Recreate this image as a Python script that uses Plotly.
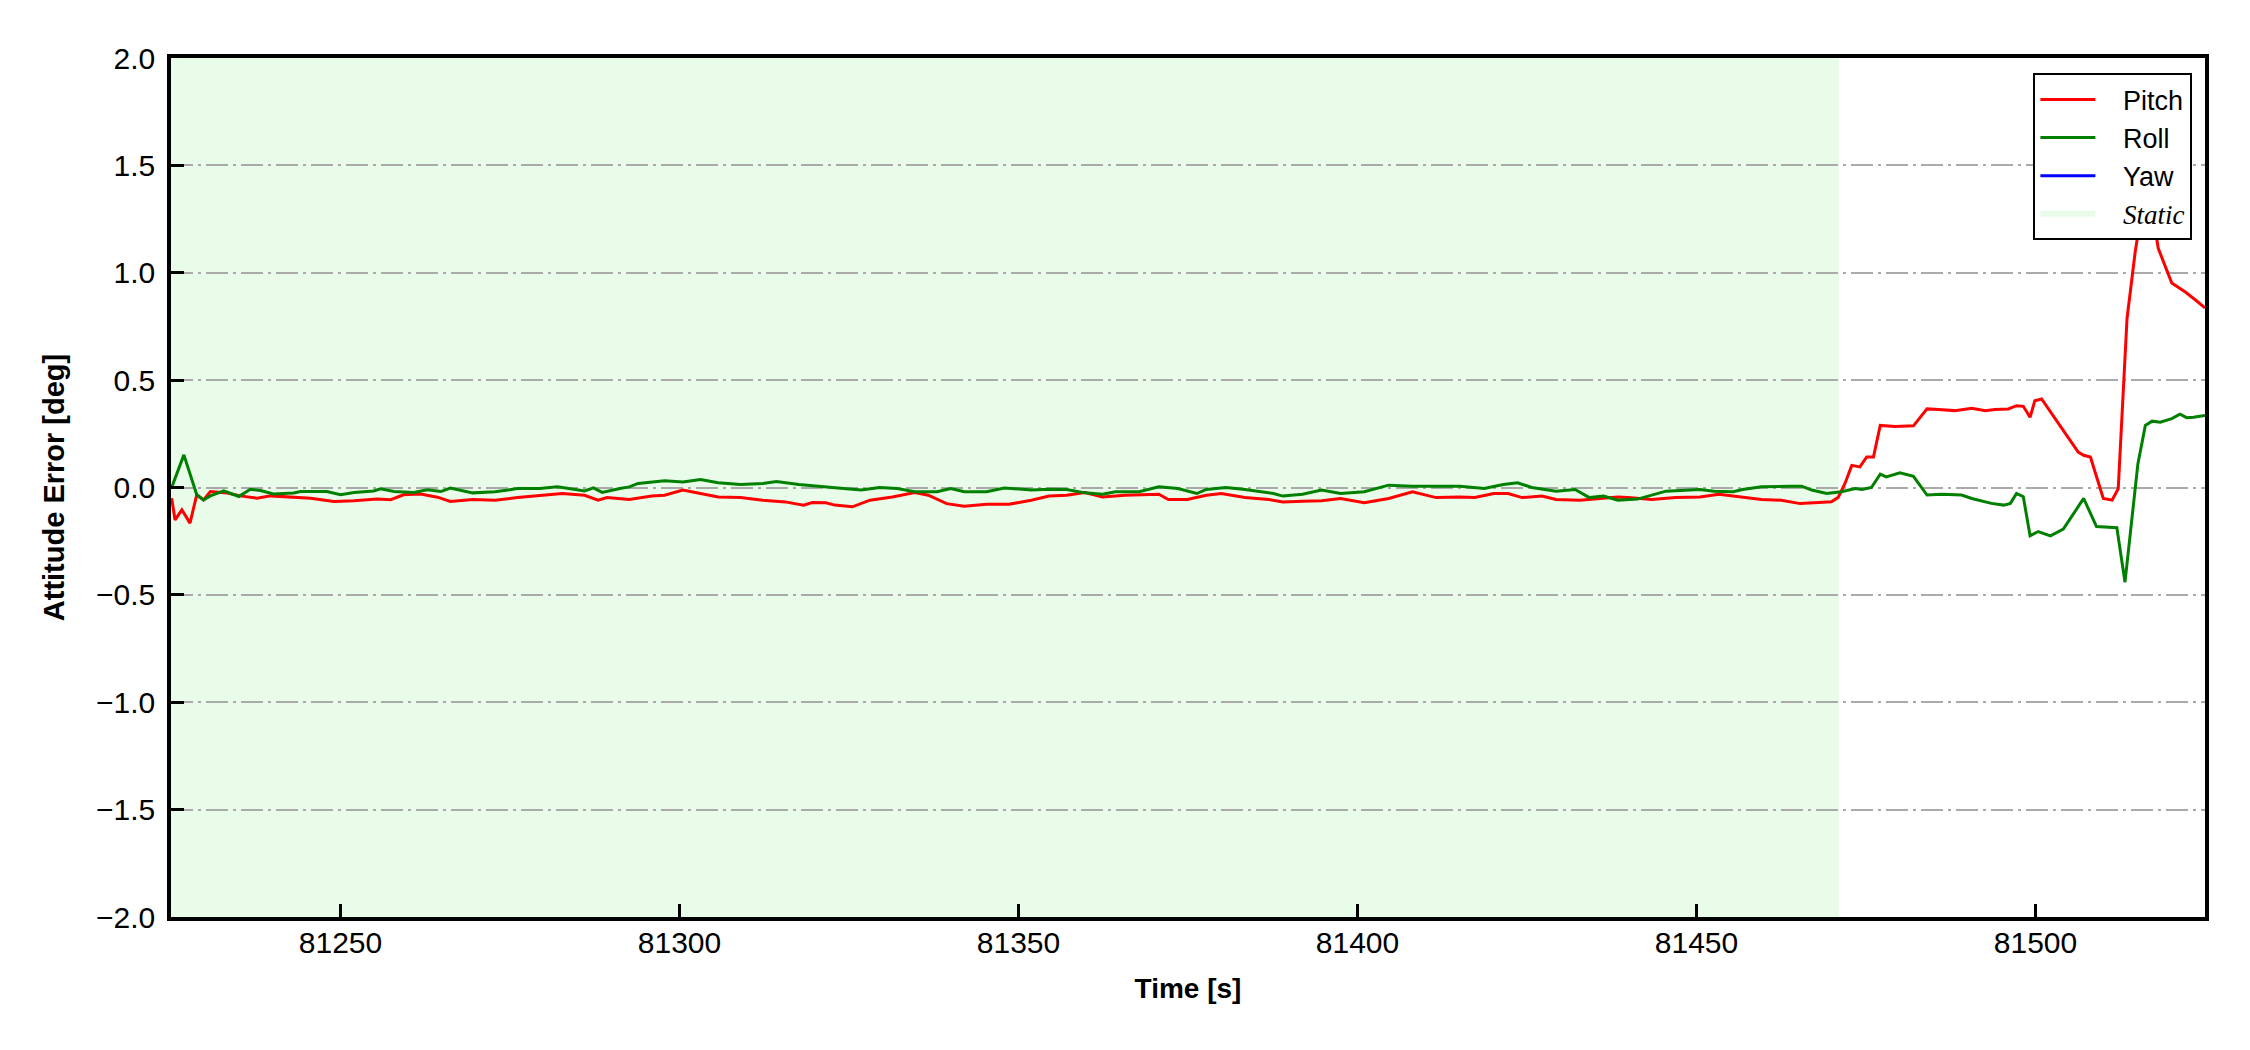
import plotly.graph_objects as go

# ---- data ----
pitch_t = [81225.1, 81225.6, 81226.6, 81227.8, 81228.8, 81229.8, 81230.8, 81233.3, 81235.2, 81237.7,
           81239.7, 81243.1, 81245.6, 81249.0, 81252.0, 81255.4, 81257.4, 81259.3, 81261.8, 81264.3,
           81266.2, 81269.5, 81272.8, 81276.1, 81279.4, 81282.7, 81286.0, 81288.0, 81289.3, 81292.6,
           81295.9, 81297.8, 81300.5, 81303.1, 81305.7, 81309.0, 81312.3, 81315.6, 81318.3, 81319.6,
           81321.6, 81322.9, 81325.5, 81328.1, 81331.4, 81334.7, 81336.7, 81339.4, 81342.0, 81345.3,
           81348.6, 81351.9, 81354.5, 81357.1, 81359.8, 81362.4, 81365.7, 81370.7, 81372.1, 81374.9,
           81377.7, 81379.9, 81383.4, 81386.9, 81389.0, 81391.9, 81394.7, 81397.5, 81401.0, 81404.6,
           81408.1, 81411.6, 81415.1, 81417.3, 81420.1, 81422.2, 81424.3, 81427.2, 81429.3, 81432.8,
           81436.3, 81438.4, 81439.9, 81443.4, 81446.9, 81450.5, 81453.3, 81456.8, 81459.6, 81462.5,
           81465.3, 81468.0, 81469.9, 81470.9, 81471.9, 81472.9, 81474.1, 81475.1, 81476.1, 81477.1,
           81479.3, 81482.0, 81484.0, 81485.7, 81488.1, 81490.6, 81492.6, 81494.0, 81496.0, 81497.2,
           81498.2, 81499.2, 81499.9, 81500.9, 81502.9, 81504.9, 81506.3, 81507.1, 81508.1, 81510.0,
           81511.3, 81512.2, 81512.7, 81513.5, 81514.7, 81515.7, 81516.7, 81517.4, 81518.1, 81520.1,
           81522.1, 81523.6, 81525.0]
pitch = [-0.050, -0.151, -0.104, -0.166, -0.034, -0.058, -0.019, -0.026, -0.039, -0.050,
         -0.039, -0.045, -0.050, -0.065, -0.062, -0.054, -0.057, -0.034, -0.030, -0.045,
         -0.065, -0.056, -0.059, -0.047, -0.036, -0.028, -0.036, -0.059, -0.047, -0.056,
         -0.040, -0.036, -0.012, -0.028, -0.044, -0.047, -0.059, -0.067, -0.082, -0.070,
         -0.071, -0.082, -0.090, -0.059, -0.044, -0.023, -0.036, -0.075, -0.087, -0.078,
         -0.078, -0.059, -0.040, -0.036, -0.023, -0.044, -0.036, -0.031, -0.056, -0.056,
         -0.036, -0.028, -0.047, -0.056, -0.067, -0.064, -0.062, -0.051, -0.071, -0.051,
         -0.020, -0.047, -0.044, -0.047, -0.028, -0.028, -0.047, -0.040, -0.056, -0.059,
         -0.051, -0.044, -0.047, -0.056, -0.047, -0.044, -0.031, -0.044, -0.056, -0.059,
         -0.075, -0.070, -0.066, -0.046, 0.019, 0.103, 0.096, 0.142, 0.142, 0.289,
         0.284, 0.287, 0.366, 0.363, 0.358, 0.369, 0.358, 0.363, 0.366, 0.381,
         0.378, 0.327, 0.404, 0.412, 0.319, 0.227, 0.165, 0.150, 0.142, -0.051,
         -0.059, -0.006, 0.327, 0.787, 1.096, 1.300, 1.400, 1.250, 1.114, 0.952,
         0.910, 0.873, 0.836]

roll_t = [81225.1, 81226.9, 81228.8, 81229.8, 81230.8, 81232.8, 81235.0, 81236.7, 81238.2, 81240.1,
          81243.1, 81244.1, 81248.0, 81250.0, 81252.0, 81254.9, 81255.9, 81257.9, 81260.8, 81262.8,
          81264.8, 81266.2, 81269.5, 81272.8, 81276.1, 81279.4, 81282.0, 81284.7, 81286.0, 81287.3,
          81288.6, 81291.2, 81292.6, 81293.9, 81296.5, 81297.8, 81300.5, 81303.1, 81305.7, 81309.0,
          81312.3, 81314.3, 81317.6, 81320.9, 81324.2, 81326.8, 81329.5, 81332.1, 81334.7, 81338.0,
          81340.0, 81342.0, 81345.3, 81347.9, 81351.9, 81354.5, 81357.1, 81359.8, 81362.4, 81364.3,
          81367.8, 81370.7, 81373.5, 81376.3, 81377.7, 81380.6, 81383.4, 81387.6, 81389.0, 81391.9,
          81394.7, 81397.5, 81401.0, 81404.6, 81408.1, 81411.6, 81415.1, 81418.7, 81421.5, 81423.6,
          81425.7, 81429.3, 81432.1, 81434.2, 81436.3, 81438.4, 81441.3, 81445.5, 81450.5, 81452.6,
          81455.4, 81456.8, 81459.6, 81463.9, 81465.5, 81467.0, 81469.2, 81470.4, 81471.4, 81473.4,
          81474.4, 81475.8, 81477.1, 81478.0, 81480.0, 81482.0, 81484.0, 81486.2, 81489.1, 81490.6,
          81493.5, 81495.3, 81496.3, 81497.2, 81498.2, 81499.2, 81500.4, 81502.2, 81504.1, 81507.1,
          81509.0, 81512.0, 81513.2, 81515.1, 81516.2, 81517.2, 81518.4, 81520.1, 81521.3, 81522.3,
          81523.3, 81525.0]
roll = [0.000, 0.152, -0.034, -0.058, -0.039, -0.016, -0.042, -0.008, -0.014, -0.030,
        -0.026, -0.019, -0.019, -0.034, -0.023, -0.016, -0.006, -0.019, -0.023, -0.011,
        -0.019, -0.003, -0.025, -0.020, -0.005, -0.005, 0.003, -0.009, -0.016, -0.002,
        -0.023, -0.005, 0.003, 0.019, 0.026, 0.031, 0.026, 0.037, 0.022, 0.014,
        0.019, 0.028, 0.014, 0.003, -0.005, -0.012, 0.000, -0.005, -0.020, -0.020,
        -0.005, -0.020, -0.020, -0.002, -0.012, -0.008, -0.009, -0.025, -0.031, -0.020,
        -0.020, 0.003, -0.005, -0.028, -0.009, 0.000, -0.009, -0.028, -0.040, -0.031,
        -0.012, -0.028, -0.020, 0.011, 0.006, 0.006, 0.006, -0.005, 0.014, 0.022,
        0.000, -0.017, -0.009, -0.047, -0.040, -0.059, -0.054, -0.017, -0.009, -0.017,
        -0.020, -0.009, 0.003, 0.006, 0.006, -0.012, -0.028, -0.023, -0.020, -0.005,
        -0.009, 0.000, 0.062, 0.049, 0.068, 0.052, -0.035, -0.032, -0.035, -0.051,
        -0.074, -0.082, -0.074, -0.028, -0.043, -0.225, -0.205, -0.225, -0.194, -0.051,
        -0.182, -0.187, -0.441, 0.110, 0.289, 0.309, 0.304, 0.321, 0.341, 0.325,
        0.327, 0.335]

# Yaw appears only in the legend (its curve is not visible in the plotted range)
yaw_t = [None]
yaw = [None]

static_start = 81225
static_end = 81471

x_range = [81225, 81525]
y_range = [-2.0, 2.0]
x_ticks = [81250, 81300, 81350, 81400, 81450, 81500]
y_ticks = [-2.0, -1.5, -1.0, -0.5, 0.0, 0.5, 1.0, 1.5, 2.0]

FONT = "Liberation Sans, Arial, sans-serif"
STATIC_COLOR = "#e9fce9"
PAD = "\u00a0\u00a0\u00a0"  # gap between legend symbol and text

fig = go.Figure()
fig.add_trace(go.Scatter(x=pitch_t, y=pitch, mode="lines", name=PAD + "Pitch",
                         line=dict(color="#ff0000", width=3), legendrank=1))
fig.add_trace(go.Scatter(x=roll_t, y=roll, mode="lines", name=PAD + "Roll",
                         line=dict(color="#008000", width=3), legendrank=2))
fig.add_trace(go.Scatter(x=yaw_t, y=yaw, mode="lines", name=PAD + "Yaw",
                         line=dict(color="#0000ff", width=3), legendrank=3))
# legend entry for the static band
fig.add_trace(go.Scatter(x=[None], y=[None], mode="none", fill="toself",
                         fillcolor=STATIC_COLOR, legendrank=4,
                         name=PAD + '<span style="font-family:Liberation Serif, Times New Roman, serif"><i>Static</i></span>'))

fig.add_shape(type="rect", xref="x", yref="y",
              x0=static_start, x1=static_end, y0=y_range[0], y1=y_range[1],
              fillcolor=STATIC_COLOR, line=dict(width=0), layer="below")

# page body has an 8px default margin, so the figure is drawn 8px smaller
fig.update_layout(
    width=2242, height=1042,
    margin=dict(l=163, r=45, t=50, b=133),
    paper_bgcolor="white", plot_bgcolor="white",
    font=dict(family=FONT, size=30, color="black"),
    showlegend=True,
    legend=dict(x=0.9938, y=0.982, xanchor="right", yanchor="top",
                bgcolor="white", bordercolor="black", borderwidth=2,
                font=dict(family=FONT, size=27, color="black"),
                tracegroupgap=0, itemwidth=55),
)

fig.update_xaxes(range=x_range, tickmode="array", tickvals=x_ticks,
                 ticktext=[str(v) for v in x_ticks],
                 showgrid=False, zeroline=False,
                 showline=True, linecolor="black", linewidth=3.5, mirror=True,
                 ticks="inside", ticklen=13, tickwidth=2.5, tickcolor="black",
                 tickfont=dict(family=FONT, size=30), ticklabelstandoff=-4,
                 title=dict(text="<b>Time [s]</b>", font=dict(family=FONT, size=28), standoff=22))

fig.update_yaxes(range=y_range, tickmode="array", tickvals=y_ticks,
                 ticktext=[("\u2212" if v < 0 else "") + f"{abs(v):.1f}" for v in y_ticks],
                 showgrid=True, gridcolor="#aaaaaa", gridwidth=2,
                 griddash="22px,5px,3px,5px",
                 zeroline=False,
                 showline=True, linecolor="black", linewidth=3.5, mirror=True,
                 ticks="inside", ticklen=13, tickwidth=2.5, tickcolor="black",
                 tickfont=dict(family=FONT, size=30), ticklabelstandoff=6,
                 title=dict(text="<b>Attitude Error [deg]</b>", font=dict(family=FONT, size=29), standoff=24))

fig.write_html("out.html")
